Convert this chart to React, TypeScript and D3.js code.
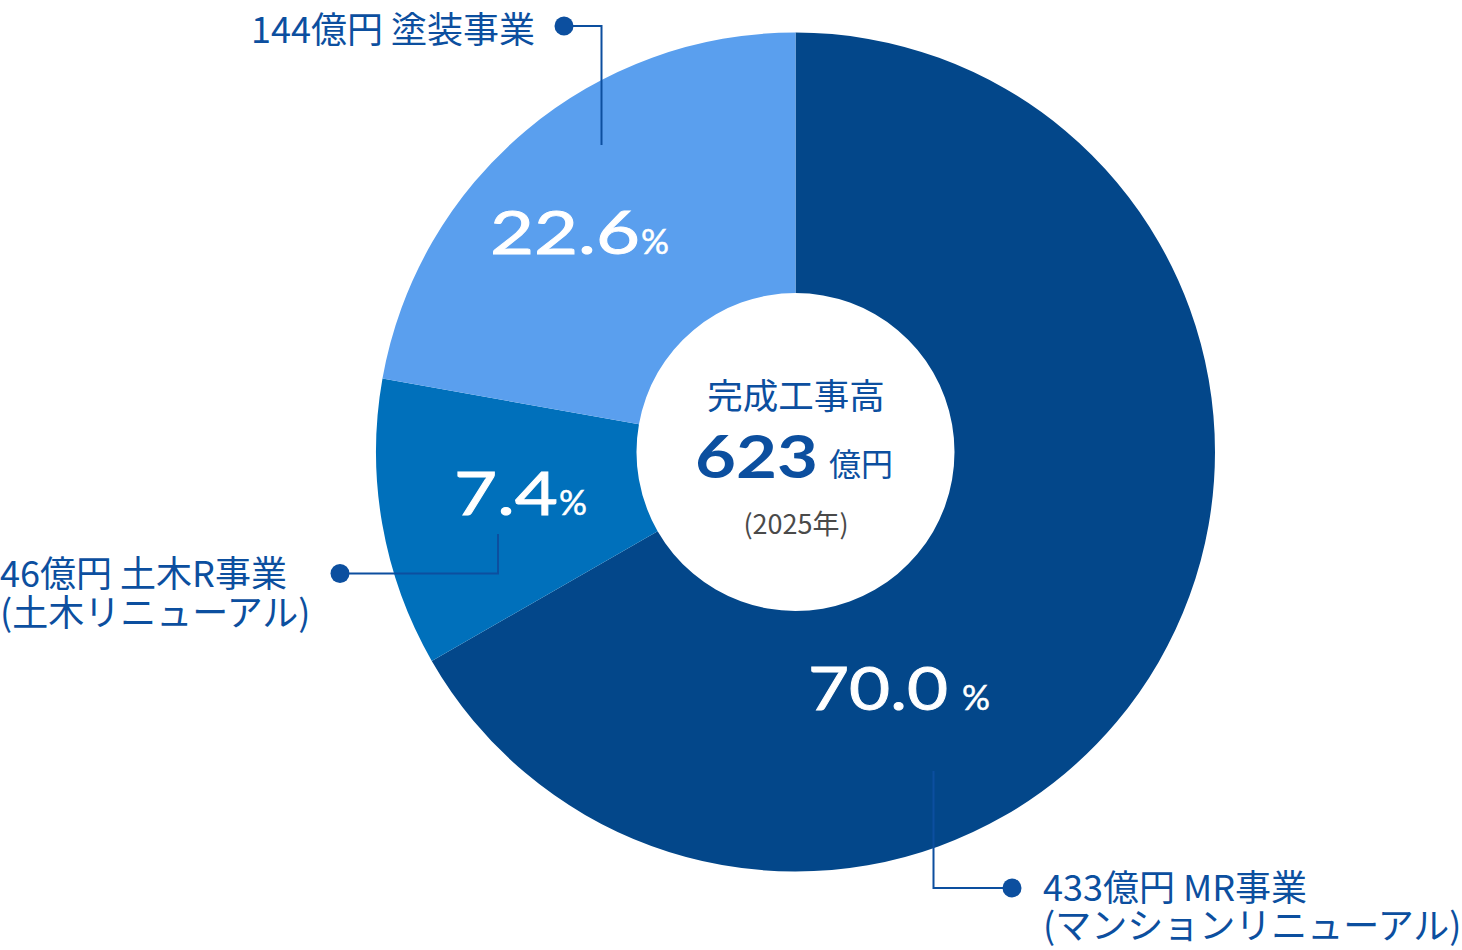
import React from "react";
import * as d3 from "d3";

// ---- data ----
const segmentNames = ["MR事業", "土木R事業", "塗装事業"];
const segmentSubNames = ["(マンションリニューアル)", "(土木リニューアル)", ""];
const amountsOku = [433, 46, 144];
const percentLabels = ["70.0", "7.4", "22.6"];
// arc sizes as drawn in the picture (share of the full circle, %)
const drawnShares = [66.7, 11.1, 22.2];
const colors = ["#03478A", "#0070BB", "#5A9FEE"];
const totalOku = 623;
const yearLabel = "(2025年)";
const centerTitle = "完成工事高";

// ---- layout ----
const W = 1462;
const H = 950;
const CX = 795.5;
const CY = 452;
const R_OUT = 419.5;
const R_IN = 159;
const TEXT_BLUE = "#0C4F9F";
const JP = "'Noto Sans CJK JP', 'Noto Sans', sans-serif";
const NUM = "Lato, Inter, 'DejaVu Sans', sans-serif";

// percentage label placement
const pctLayout = [
  { x: 808, y: 710, w: 140, px: 962 },
  { x: 454, y: 515, w: 104, px: 559 },
  { x: 490, y: 254, w: 150, px: 641 },
];

// leader lines
const leaders = [
  { dot: [1012, 888], path: "M1012,888H933.5V771" },
  { dot: [340, 573.5], path: "M340,573.5H498V534" },
  { dot: [564, 26], path: "M564,26H601.5V145" },
];

const labelLayout = [
  { x: 1043, y: 900.5, anchor: "start" },
  { x: 0, y: 587, anchor: "start" },
  { x: 535, y: 43, anchor: "end" },
];

export default function App() {
  const pie = d3
    .pie<number>()
    .sort(null)
    .value((d) => d)
    .startAngle(0)
    .endAngle(2 * Math.PI);
  const arcs = pie(drawnShares);
  const arcGen = d3.arc<d3.PieArcDatum<number>>().innerRadius(R_IN).outerRadius(R_OUT);

  return (
    <svg
      width={W}
      height={H}
      viewBox={`0 0 ${W} ${H}`}
      style={{ position: "absolute", left: 0, top: 0, background: "#fff" }}
    >
      <g transform={`translate(${CX},${CY})`}>
        {arcs.map((a, i) => (
          <path key={i} d={arcGen(a) || ""} fill={colors[i]} />
        ))}
      </g>

      {/* percentages */}
      {percentLabels.map((p, i) => {
        const L = pctLayout[i];
        return (
          <g key={i} fill="#fff" stroke="#fff" strokeWidth={0.9}>
            <text
              x={L.x}
              y={L.y}
              fontFamily={NUM}
              fontSize={60}
              fontWeight={400}
              textLength={L.w}
              lengthAdjust="spacingAndGlyphs"
            >
              {p}
            </text>
            <text
              x={L.px}
              y={L.y}
              fontFamily={NUM}
              fontSize={34}
              fontWeight={400}
              strokeWidth={0.5}
              textLength={28}
              lengthAdjust="spacingAndGlyphs"
            >
              %
            </text>
          </g>
        );
      })}

      {/* center */}
      <text x={796} y={408.5} textAnchor="middle" fontFamily={JP} fontSize={35.5} fill={TEXT_BLUE}>
        {centerTitle}
      </text>
      <text
        x={695}
        y={478}
        fontFamily={NUM}
        fontSize={60}
        fontWeight={700}
        fill={TEXT_BLUE}
        textLength={123}
        lengthAdjust="spacingAndGlyphs"
      >
        {String(totalOku)}
      </text>
      <text x={829} y={476} fontFamily={JP} fontSize={32} fill={TEXT_BLUE}>
        億円
      </text>
      <text x={796} y={533.5} textAnchor="middle" fontFamily={JP} fontSize={27} fill="#4A4A4A">
        {yearLabel}
      </text>

      {/* leaders */}
      {leaders.map((l, i) => (
        <g key={i}>
          <path d={l.path} fill="none" stroke={TEXT_BLUE} strokeWidth={2} />
          <circle cx={l.dot[0]} cy={l.dot[1]} r={9.5} fill={TEXT_BLUE} />
        </g>
      ))}

      {/* outer labels */}
      {segmentNames.map((n, i) => {
        const L = labelLayout[i];
        return (
          <g key={i}>
            <text x={L.x} y={L.y} textAnchor={L.anchor as any} fontFamily={JP} fontSize={36} fill={TEXT_BLUE}>
              {`${amountsOku[i]}億円 ${n}`}
            </text>
            {segmentSubNames[i] && (
              <text x={L.x} y={L.y + 38.5} textAnchor={L.anchor as any} fontFamily={JP} fontSize={36} fill={TEXT_BLUE}>
                {segmentSubNames[i]}
              </text>
            )}
          </g>
        );
      })}
    </svg>
  );
}
